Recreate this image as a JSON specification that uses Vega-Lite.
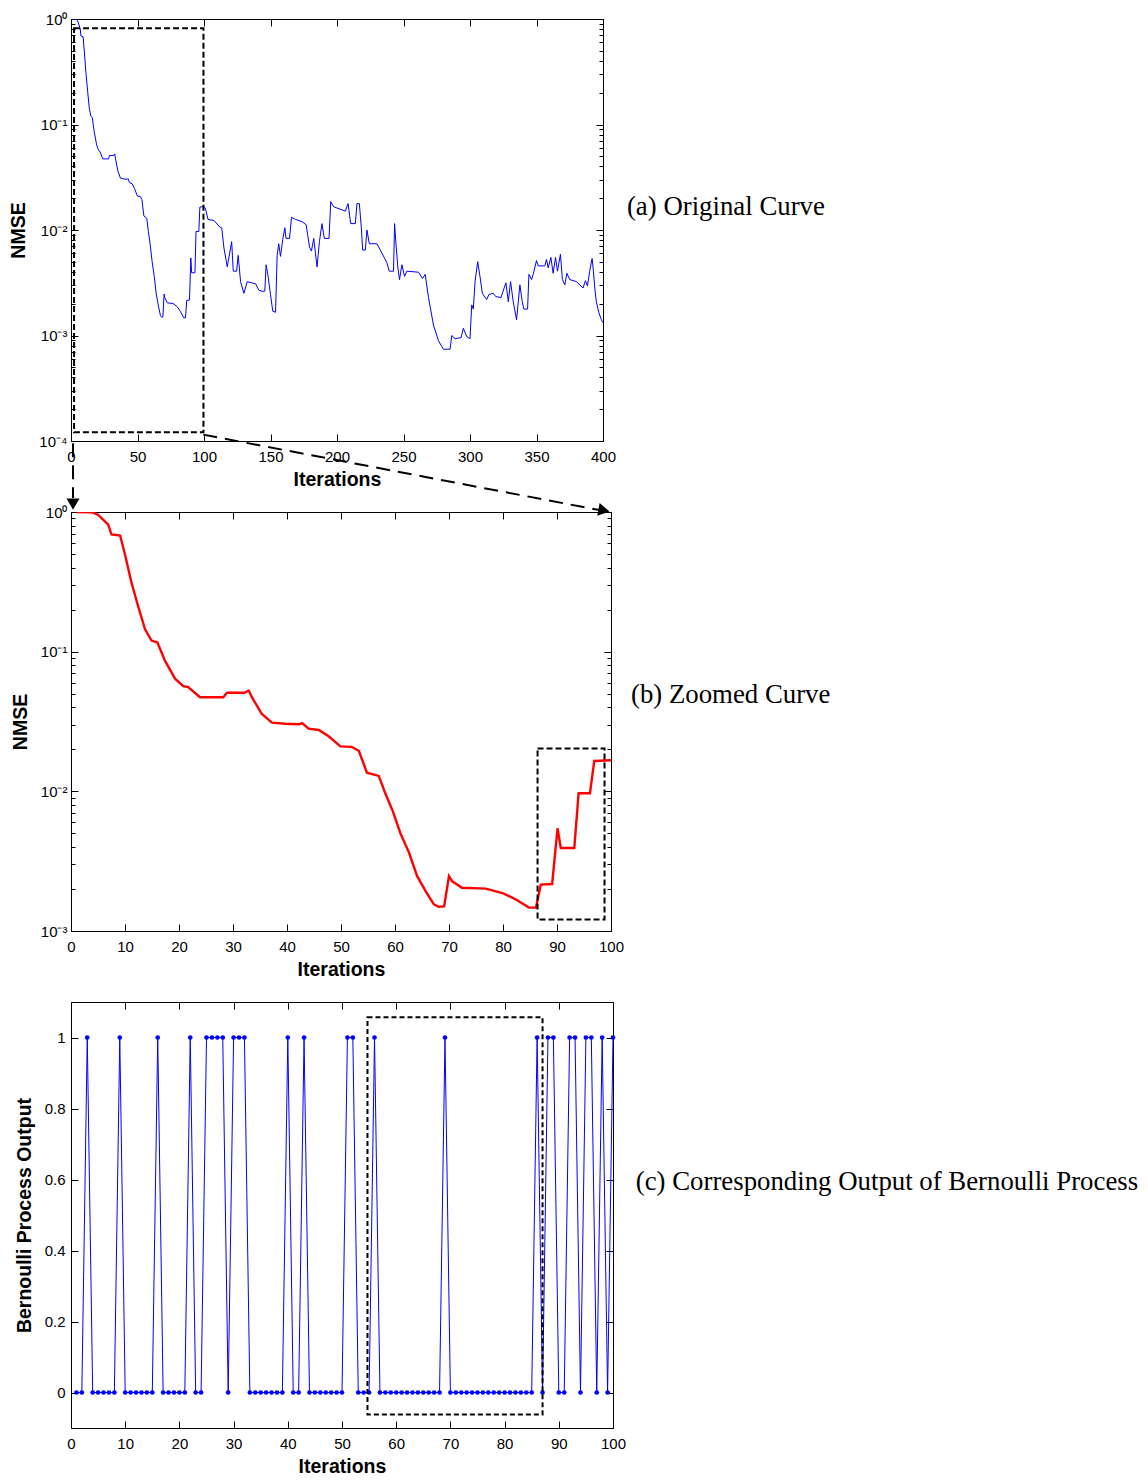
{
  "$schema": "https://vega.github.io/schema/vega-lite/v6.json",
  "background": "white",
  "padding": {"left": 8, "top": 11, "right": 5, "bottom": 5},
  "bounds": "flush",
  "spacing": 71,
  "config": {
    "view": {"stroke": "black", "strokeWidth": 1},
    "axis": {"domain": false, "grid": false, "tickColor": "black", "tickWidth": 1, "labelColor": "black", "titleColor": "black", "labelFont": "Liberation Sans", "labelFontSize": 15, "titleFont": "Liberation Sans", "titleFontSize": 19.5, "titleFontWeight": "bold", "labelOverlap": false, "labelFlush": false, "labelBound": false}
  },
  "datasets": {
    "curve": [
      {"iter":1,"nmse":1.0},{"iter":4,"nmse":0.995},{"iter":5,"nmse":0.957},{"iter":6.9,"nmse":0.813},{"iter":7.5,"nmse":0.69},{"iter":9.1,"nmse":0.679},{"iter":10,"nmse":0.497},{"iter":11.2,"nmse":0.312},{"iter":12.5,"nmse":0.207},{"iter":13.7,"nmse":0.145},{"iter":14.9,"nmse":0.12},{"iter":16,"nmse":0.1164},{"iter":17.4,"nmse":0.0863},{"iter":19.3,"nmse":0.0638},{"iter":20.8,"nmse":0.0566},{"iter":21.7,"nmse":0.0557},{"iter":23.9,"nmse":0.0472},{"iter":28.2,"nmse":0.0472},{"iter":28.9,"nmse":0.0508},{"iter":32.1,"nmse":0.0508},{"iter":32.9,"nmse":0.0527},{"iter":33.5,"nmse":0.0472},{"iter":35.3,"nmse":0.036},{"iter":37.2,"nmse":0.031},{"iter":39.7,"nmse":0.0305},{"iter":42.2,"nmse":0.0302},{"iter":42.8,"nmse":0.0308},{"iter":44,"nmse":0.0281},{"iter":45.9,"nmse":0.0275},{"iter":47.7,"nmse":0.0248},{"iter":49.9,"nmse":0.021},{"iter":52,"nmse":0.0208},{"iter":53.3,"nmse":0.0195},{"iter":54.8,"nmse":0.0136},{"iter":57,"nmse":0.0129},{"iter":58.2,"nmse":0.00968},{"iter":59.5,"nmse":0.00736},{"iter":61,"nmse":0.00501},{"iter":62.6,"nmse":0.00363},{"iter":64.1,"nmse":0.00247},{"iter":65.7,"nmse":0.00192},{"iter":67.2,"nmse":0.00155},{"iter":68.1,"nmse":0.00149},{"iter":69.1,"nmse":0.0015},{"iter":70,"nmse":0.00247},{"iter":70.6,"nmse":0.00227},{"iter":72.4,"nmse":0.00204},{"iter":76.8,"nmse":0.00201},{"iter":79.9,"nmse":0.00187},{"iter":82.4,"nmse":0.00168},{"iter":84.8,"nmse":0.00147},{"iter":86.1,"nmse":0.00147},{"iter":87,"nmse":0.00215},{"iter":89.1,"nmse":0.00217},{"iter":90.1,"nmse":0.00544},{"iter":90.7,"nmse":0.00393},{"iter":93.2,"nmse":0.00393},{"iter":94,"nmse":0.00968},{"iter":96.1,"nmse":0.00968},{"iter":96.9,"nmse":0.0165},{"iter":100,"nmse":0.0167},
      {"iter":101.2,"nmse":0.0158},{"iter":103,"nmse":0.0126},{"iter":107.5,"nmse":0.0123},{"iter":111.8,"nmse":0.0107},{"iter":113.3,"nmse":0.0105},{"iter":115,"nmse":0.00676},{"iter":117.5,"nmse":0.00447},{"iter":119.3,"nmse":0.00603},{"iter":120.8,"nmse":0.00776},{"iter":122,"nmse":0.00407},{"iter":124.5,"nmse":0.00407},{"iter":125.7,"nmse":0.00575},{"iter":127.5,"nmse":0.00324},{"iter":130,"nmse":0.00251},{"iter":132.5,"nmse":0.00324},{"iter":138.8,"nmse":0.00309},{"iter":141.2,"nmse":0.00269},{"iter":143.7,"nmse":0.00263},{"iter":145.7,"nmse":0.00263},{"iter":146.7,"nmse":0.00468},{"iter":148.2,"nmse":0.00363},{"iter":150,"nmse":0.00245},{"iter":151.7,"nmse":0.0017},{"iter":153.8,"nmse":0.00166},{"iter":155,"nmse":0.00575},{"iter":156.2,"nmse":0.00741},{"iter":157.5,"nmse":0.00562},{"iter":159.2,"nmse":0.00813},{"iter":160.8,"nmse":0.0105},{"iter":161.7,"nmse":0.00832},{"iter":164.3,"nmse":0.00832},{"iter":165.8,"nmse":0.0132},{"iter":168.8,"nmse":0.0126},{"iter":173.7,"nmse":0.012},{"iter":176.8,"nmse":0.0112},{"iter":179.3,"nmse":0.00692},{"iter":180.8,"nmse":0.00631},{"iter":182.5,"nmse":0.00832},{"iter":185,"nmse":0.00447},{"iter":186.8,"nmse":0.00776},{"iter":188.7,"nmse":0.0115},{"iter":190.5,"nmse":0.00832},{"iter":194,"nmse":0.00832},{"iter":195.3,"nmse":0.0186},{"iter":197.5,"nmse":0.0166},{"iter":206.3,"nmse":0.0151},{"iter":208.3,"nmse":0.0178},{"iter":210.3,"nmse":0.0115},{"iter":213.8,"nmse":0.0115},{"iter":215,"nmse":0.0178},{"iter":216.8,"nmse":0.0178},{"iter":218.3,"nmse":0.0105},{"iter":219.3,"nmse":0.00646},{"iter":221.3,"nmse":0.00646},{"iter":222.5,"nmse":0.01},{"iter":224.3,"nmse":0.00741},{"iter":230,"nmse":0.00741},{"iter":233.8,"nmse":0.00603},{"iter":237.5,"nmse":0.0049},{"iter":239.3,"nmse":0.00407},{"iter":242.5,"nmse":0.00407},{"iter":243.3,"nmse":0.0115},{"iter":244.5,"nmse":0.00692},{"iter":245.8,"nmse":0.00437},{"iter":247,"nmse":0.00339},{"iter":248.8,"nmse":0.00468},{"iter":250.8,"nmse":0.00363},{"iter":252.5,"nmse":0.00407},{"iter":261.3,"nmse":0.00398},{"iter":264.3,"nmse":0.00347},{"iter":266.3,"nmse":0.0038},{"iter":268.8,"nmse":0.00229},{"iter":272.5,"nmse":0.00126},{"iter":276.3,"nmse":0.000891},{"iter":280,"nmse":0.000741},{"iter":285,"nmse":0.000741},{"iter":286.3,"nmse":0.001},{"iter":288.8,"nmse":0.000933},{"iter":293.3,"nmse":0.000955},{"iter":295,"nmse":0.00117},{"iter":297.5,"nmse":0.000977},{"iter":300,"nmse":0.000933},{"iter":301.3,"nmse":0.00195},{"iter":302.5,"nmse":0.00178},{"iter":303.8,"nmse":0.00324},{"iter":305.8,"nmse":0.00501},{"iter":307.5,"nmse":0.00363},{"iter":309.3,"nmse":0.00251},{"iter":312.5,"nmse":0.00219},{"iter":314.3,"nmse":0.00245},{"iter":317.5,"nmse":0.00251},{"iter":319.3,"nmse":0.00234},{"iter":323.3,"nmse":0.00229},{"iter":327,"nmse":0.00316},{"iter":328.8,"nmse":0.00209},{"iter":330.5,"nmse":0.00324},{"iter":332.5,"nmse":0.00209},{"iter":335,"nmse":0.00141},{"iter":337.5,"nmse":0.00302},{"iter":339.3,"nmse":0.00209},{"iter":340.5,"nmse":0.00178},{"iter":343.3,"nmse":0.00178},{"iter":344.3,"nmse":0.0038},{"iter":346.3,"nmse":0.00339},{"iter":347.5,"nmse":0.0038},{"iter":350,"nmse":0.00513},{"iter":351.3,"nmse":0.00457},{"iter":356.3,"nmse":0.00457},{"iter":357.5,"nmse":0.00525},{"iter":358.8,"nmse":0.00437},{"iter":360.8,"nmse":0.0055},{"iter":362.5,"nmse":0.00389},{"iter":364.3,"nmse":0.0055},{"iter":365.8,"nmse":0.00407},{"iter":368,"nmse":0.00589},{"iter":369.5,"nmse":0.00339},{"iter":371.3,"nmse":0.00302},{"iter":372.8,"nmse":0.00389},{"iter":375,"nmse":0.00339},{"iter":380,"nmse":0.00324},{"iter":385,"nmse":0.00282},{"iter":386.8,"nmse":0.00331},{"iter":388.3,"nmse":0.00295},{"iter":390,"nmse":0.00407},{"iter":391.8,"nmse":0.00537},{"iter":392.8,"nmse":0.00407},{"iter":393.8,"nmse":0.00282},{"iter":395,"nmse":0.00209},{"iter":396.8,"nmse":0.00166},{"iter":398.8,"nmse":0.00141},{"iter":400,"nmse":0.00132}
    ],
    "bern": [
      {"iter":1,"out":0},{"iter":2,"out":0},{"iter":3,"out":1},{"iter":4,"out":0},{"iter":5,"out":0},{"iter":6,"out":0},{"iter":7,"out":0},{"iter":8,"out":0},{"iter":9,"out":1},{"iter":10,"out":0},
      {"iter":11,"out":0},{"iter":12,"out":0},{"iter":13,"out":0},{"iter":14,"out":0},{"iter":15,"out":0},{"iter":16,"out":1},{"iter":17,"out":0},{"iter":18,"out":0},{"iter":19,"out":0},{"iter":20,"out":0},
      {"iter":21,"out":0},{"iter":22,"out":1},{"iter":23,"out":0},{"iter":24,"out":0},{"iter":25,"out":1},{"iter":26,"out":1},{"iter":27,"out":1},{"iter":28,"out":1},{"iter":29,"out":0},{"iter":30,"out":1},
      {"iter":31,"out":1},{"iter":32,"out":1},{"iter":33,"out":0},{"iter":34,"out":0},{"iter":35,"out":0},{"iter":36,"out":0},{"iter":37,"out":0},{"iter":38,"out":0},{"iter":39,"out":0},{"iter":40,"out":1},
      {"iter":41,"out":0},{"iter":42,"out":0},{"iter":43,"out":1},{"iter":44,"out":0},{"iter":45,"out":0},{"iter":46,"out":0},{"iter":47,"out":0},{"iter":48,"out":0},{"iter":49,"out":0},{"iter":50,"out":0},
      {"iter":51,"out":1},{"iter":52,"out":1},{"iter":53,"out":0},{"iter":54,"out":0},{"iter":55,"out":0},{"iter":56,"out":1},{"iter":57,"out":0},{"iter":58,"out":0},{"iter":59,"out":0},{"iter":60,"out":0},
      {"iter":61,"out":0},{"iter":62,"out":0},{"iter":63,"out":0},{"iter":64,"out":0},{"iter":65,"out":0},{"iter":66,"out":0},{"iter":67,"out":0},{"iter":68,"out":0},{"iter":69,"out":1},{"iter":70,"out":0},
      {"iter":71,"out":0},{"iter":72,"out":0},{"iter":73,"out":0},{"iter":74,"out":0},{"iter":75,"out":0},{"iter":76,"out":0},{"iter":77,"out":0},{"iter":78,"out":0},{"iter":79,"out":0},{"iter":80,"out":0},
      {"iter":81,"out":0},{"iter":82,"out":0},{"iter":83,"out":0},{"iter":84,"out":0},{"iter":85,"out":0},{"iter":86,"out":1},{"iter":87,"out":0},{"iter":88,"out":1},{"iter":89,"out":1},{"iter":90,"out":0},
      {"iter":91,"out":0},{"iter":92,"out":1},{"iter":93,"out":1},{"iter":94,"out":0},{"iter":95,"out":1},{"iter":96,"out":1},{"iter":97,"out":0},{"iter":98,"out":1},{"iter":99,"out":0},{"iter":100,"out":1}
    ],
    "boxA": [{"x1": 2.3, "x2": 99.6, "y1": 0.000121, "y2": 0.817}],
    "boxB": [{"x1": 86.4, "x2": 98.8, "y1": 0.00121, "y2": 0.0203}],
    "boxC": [{"x1": 54.7, "x2": 87.0, "y1": -0.062, "y2": 1.057}],
    "arrowLines": [{"x1": 0.37, "x2": 0.37, "y1": 3.1, "y2": 1.26}, {"x1": 24.5, "x2": 97.8, "y1": 3.58, "y2": 1.033}],
    "headDown": [{"x": 0.37, "y": 1.14}],
    "headRight": [{"x": 98.7, "y": 1.025}]
  },
  "vconcat": [
    {
      "width": 532, "height": 422,
      "layer": [
        {
          "data": {"name": "curve"},
          "mark": {"type": "line", "color": "#0000ff", "strokeWidth": 1, "clip": true},
          "encoding": {
            "x": {"field": "iter", "type": "quantitative", "scale": {"domain": [0, 400], "nice": false},
                  "axis": {"orient": "bottom", "values": [0,50,100,150,200,250,300,350,400], "tickSize": -7, "labelPadding": 15, "title": "Iterations", "titlePadding": 6}},
            "y": {"field": "nmse", "type": "quantitative", "scale": {"type": "log", "domain": [0.0001, 1], "nice": false},
                  "axis": {"orient": "left",
                           "values": [0.0001,0.0002,0.0003,0.0004,0.0005,0.0006,0.0007,0.0008,0.0009,0.001,0.002,0.003,0.004,0.005,0.006,0.007,0.008,0.009,0.01,0.02,0.03,0.04,0.05,0.06,0.07,0.08,0.09,0.1,0.2,0.3,0.4,0.5,0.6,0.7,0.8,0.9,1],
                           "tickSize": {"condition": {"test": "datum.value == 1 || datum.value == 0.1 || datum.value == 0.01 || datum.value == 0.001 || datum.value == 0.0001", "value": -7}, "value": -4},
                           "labelExpr": "datum.value == 1 ? '10⁰' : datum.value == 0.1 ? '10⁻¹' : datum.value == 0.01 ? '10⁻²' : datum.value == 0.001 ? '10⁻³' : datum.value == 0.0001 ? '10⁻⁴' : ''",
                           "labelPadding": 11, "title": "NMSE", "titlePadding": 10}}
          }
        },
        {
          "data": {"name": "boxA"},
          "mark": {"type": "rect", "fill": "transparent", "stroke": "black", "strokeWidth": 2, "strokeDash": [6, 3]},
          "encoding": {
            "x": {"field": "x1", "type": "quantitative", "scale": {"domain": [0, 400], "nice": false},
                  "axis": {"orient": "top", "values": [0,50,100,150,200,250,300,350,400], "tickSize": -7, "labels": false, "title": null}},
            "x2": {"field": "x2"},
            "y": {"field": "y1", "type": "quantitative", "scale": {"type": "log", "domain": [0.0001, 1], "nice": false},
                  "axis": {"orient": "right",
                           "values": [0.0001,0.0002,0.0003,0.0004,0.0005,0.0006,0.0007,0.0008,0.0009,0.001,0.002,0.003,0.004,0.005,0.006,0.007,0.008,0.009,0.01,0.02,0.03,0.04,0.05,0.06,0.07,0.08,0.09,0.1,0.2,0.3,0.4,0.5,0.6,0.7,0.8,0.9,1],
                           "tickSize": {"condition": {"test": "datum.value == 1 || datum.value == 0.1 || datum.value == 0.01 || datum.value == 0.001 || datum.value == 0.0001", "value": -7}, "value": -4},
                           "labels": false, "title": null}},
            "y2": {"field": "y2"}
          }
        },
        {
          "data": {"values": [{"x": 418, "y": 0.0165, "label": "(a) Original Curve"}]},
          "mark": {"type": "text", "align": "left", "baseline": "middle", "font": "Liberation Serif", "fontSize": 26.8, "color": "black"},
          "encoding": {
            "x": {"field": "x", "type": "quantitative", "scale": {"domain": [0, 400], "nice": false}, "axis": null},
            "y": {"field": "y", "type": "quantitative", "scale": {"type": "log", "domain": [0.0001, 1], "nice": false}, "axis": null},
            "text": {"field": "label"}
          }
        }
      ],
      "resolve": {"axis": {"x": "independent", "y": "independent"}}
    },
    {
      "width": 540, "height": 419,
      "layer": [
        {
          "data": {"name": "curve"},
          "transform": [{"filter": "datum.iter <= 100"}],
          "mark": {"type": "line", "color": "#ff0000", "strokeWidth": 2.4, "clip": true},
          "encoding": {
            "x": {"field": "iter", "type": "quantitative", "scale": {"domain": [0, 100], "nice": false},
                  "axis": {"orient": "bottom", "values": [0,10,20,30,40,50,60,70,80,90,100], "tickSize": -7, "labelPadding": 15, "title": "Iterations", "titlePadding": 6}},
            "y": {"field": "nmse", "type": "quantitative", "scale": {"type": "log", "domain": [0.001, 1], "nice": false},
                  "axis": {"orient": "left",
                           "values": [0.001,0.002,0.003,0.004,0.005,0.006,0.007,0.008,0.009,0.01,0.02,0.03,0.04,0.05,0.06,0.07,0.08,0.09,0.1,0.2,0.3,0.4,0.5,0.6,0.7,0.8,0.9,1],
                           "tickSize": {"condition": {"test": "datum.value == 1 || datum.value == 0.1 || datum.value == 0.01 || datum.value == 0.001", "value": -7}, "value": -4},
                           "labelExpr": "datum.value == 1 ? '10⁰' : datum.value == 0.1 ? '10⁻¹' : datum.value == 0.01 ? '10⁻²' : datum.value == 0.001 ? '10⁻³' : ''",
                           "labelPadding": 11, "title": "NMSE", "titlePadding": 10}}
          }
        },
        {
          "data": {"name": "boxB"},
          "mark": {"type": "rect", "fill": "transparent", "stroke": "black", "strokeWidth": 2, "strokeDash": [6, 3]},
          "encoding": {
            "x": {"field": "x1", "type": "quantitative", "scale": {"domain": [0, 100], "nice": false},
                  "axis": {"orient": "top", "values": [0,10,20,30,40,50,60,70,80,90,100], "tickSize": -7, "labels": false, "title": null}},
            "x2": {"field": "x2"},
            "y": {"field": "y1", "type": "quantitative", "scale": {"type": "log", "domain": [0.001, 1], "nice": false},
                  "axis": {"orient": "right",
                           "values": [0.001,0.002,0.003,0.004,0.005,0.006,0.007,0.008,0.009,0.01,0.02,0.03,0.04,0.05,0.06,0.07,0.08,0.09,0.1,0.2,0.3,0.4,0.5,0.6,0.7,0.8,0.9,1],
                           "tickSize": {"condition": {"test": "datum.value == 1 || datum.value == 0.1 || datum.value == 0.01 || datum.value == 0.001", "value": -7}, "value": -4},
                           "labels": false, "title": null}},
            "y2": {"field": "y2"}
          }
        },
        {
          "data": {"name": "arrowLines"},
          "mark": {"type": "rule", "color": "black", "strokeWidth": 2, "strokeDash": [14, 8]},
          "encoding": {
            "x": {"field": "x1", "type": "quantitative", "scale": {"domain": [0, 100], "nice": false}, "axis": null},
            "x2": {"field": "x2"},
            "y": {"field": "y1", "type": "quantitative", "scale": {"type": "log", "domain": [0.001, 1], "nice": false}, "axis": null},
            "y2": {"field": "y2"}
          }
        },
        {
          "data": {"name": "headDown"},
          "mark": {"type": "point", "shape": "triangle-down", "filled": true, "color": "black", "size": 170, "opacity": 1},
          "encoding": {
            "x": {"field": "x", "type": "quantitative", "scale": {"domain": [0, 100], "nice": false}, "axis": null},
            "y": {"field": "y", "type": "quantitative", "scale": {"type": "log", "domain": [0.001, 1], "nice": false}, "axis": null}
          }
        },
        {
          "data": {"name": "headRight"},
          "mark": {"type": "point", "shape": "triangle-right", "filled": true, "color": "black", "size": 170, "opacity": 1, "angle": 10.7},
          "encoding": {
            "x": {"field": "x", "type": "quantitative", "scale": {"domain": [0, 100], "nice": false}, "axis": null},
            "y": {"field": "y", "type": "quantitative", "scale": {"type": "log", "domain": [0.001, 1], "nice": false}, "axis": null}
          }
        },
        {
          "data": {"values": [{"x": 103.7, "y": 0.0493, "label": "(b) Zoomed Curve"}]},
          "mark": {"type": "text", "align": "left", "baseline": "middle", "font": "Liberation Serif", "fontSize": 26.8, "color": "black"},
          "encoding": {
            "x": {"field": "x", "type": "quantitative", "scale": {"domain": [0, 100], "nice": false}, "axis": null},
            "y": {"field": "y", "type": "quantitative", "scale": {"type": "log", "domain": [0.001, 1], "nice": false}, "axis": null},
            "text": {"field": "label"}
          }
        }
      ],
      "resolve": {"axis": {"x": "independent", "y": "independent"}}
    },
    {
      "width": 542, "height": 426,
      "layer": [
        {
          "data": {"name": "bern"},
          "mark": {"type": "line", "color": "#0000ff", "strokeWidth": 1, "point": {"filled": true, "size": 22, "color": "#0000ff"}},
          "encoding": {
            "x": {"field": "iter", "type": "quantitative", "scale": {"domain": [0, 100], "nice": false},
                  "axis": {"orient": "bottom", "values": [0,10,20,30,40,50,60,70,80,90,100], "tickSize": -7, "labelPadding": 15, "title": "Iterations", "titlePadding": 6}},
            "y": {"field": "out", "type": "quantitative", "scale": {"domain": [-0.1, 1.1], "nice": false, "zero": false},
                  "axis": {"orient": "left", "values": [0, 0.2, 0.4, 0.6, 0.8, 1], "format": "~g", "tickSize": -7, "labelPadding": 13, "title": "Bernoulli Process Output", "titlePadding": 10}}
          }
        },
        {
          "data": {"name": "boxC"},
          "mark": {"type": "rect", "fill": "transparent", "stroke": "black", "strokeWidth": 2, "strokeDash": [5, 3]},
          "encoding": {
            "x": {"field": "x1", "type": "quantitative", "scale": {"domain": [0, 100], "nice": false},
                  "axis": {"orient": "top", "values": [0,10,20,30,40,50,60,70,80,90,100], "tickSize": -7, "labels": false, "title": null}},
            "x2": {"field": "x2"},
            "y": {"field": "y1", "type": "quantitative", "scale": {"domain": [-0.1, 1.1], "nice": false, "zero": false},
                  "axis": {"orient": "right", "values": [0, 0.2, 0.4, 0.6, 0.8, 1], "tickSize": -7, "labels": false, "title": null}},
            "y2": {"field": "y2"}
          }
        },
        {
          "data": {"values": [{"x": 104.2, "y": 0.592, "label": "(c) Corresponding Output of Bernoulli Process"}]},
          "mark": {"type": "text", "align": "left", "baseline": "middle", "font": "Liberation Serif", "fontSize": 26.8, "color": "black"},
          "encoding": {
            "x": {"field": "x", "type": "quantitative", "scale": {"domain": [0, 100], "nice": false}, "axis": null},
            "y": {"field": "y", "type": "quantitative", "scale": {"domain": [-0.1, 1.1], "nice": false, "zero": false}, "axis": null},
            "text": {"field": "label"}
          }
        }
      ],
      "resolve": {"axis": {"x": "independent", "y": "independent"}}
    }
  ]
}
